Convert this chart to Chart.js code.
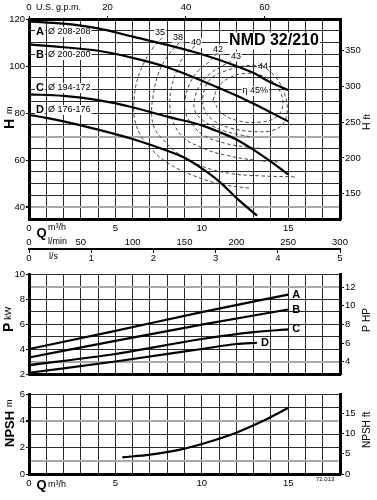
<!DOCTYPE html>
<html>
<head>
<meta charset="utf-8">
<script src="https://cdn.jsdelivr.net/npm/chart.js@4.4.1/dist/chart.umd.min.js"></script>
<style>
  html, body { margin: 0; padding: 0; background: #fff; }
  #wrap { position: relative; width: 377px; height: 500px; overflow: hidden; }
  canvas { position: absolute; left: 0; }
</style>
</head>
<body>
<div id="wrap">
  <canvas id="headChart" width="377" height="265" style="top:0"></canvas>
  <canvas id="powerChart" width="377" height="120" style="top:265px"></canvas>
  <canvas id="npshChart" width="377" height="115" style="top:385px"></canvas>
</div>
<script>
'use strict';

// flow Q in m3/h, head H in m
const HEAD_Q_AB = [0, 2, 4, 6, 8, 10, 12, 13, 14, 15];
const HEAD_A = [119, 118, 116, 112.5, 109, 105, 100, 97, 93, 89.8];
const HEAD_B = [109.2, 108, 106.5, 103.5, 99.5, 93.8, 87.5, 84, 80.3, 76.5];
const HEAD_Q_C = [0, 2, 4, 6, 8, 10, 11, 12, 13, 14, 15];
const HEAD_C = [88, 87.3, 85.5, 82.5, 78.5, 74.8, 72, 68.8, 64.4, 59.4, 54];
const HEAD_Q_D = [0, 1, 2, 4, 6, 8, 9, 10, 11, 12, 13.2];
const HEAD_D = [79.3, 78, 76.5, 73, 69, 64, 61, 56.5, 51, 44, 36.4];
const PUMP_NAMES = ['A', 'B', 'C', 'D'];
const IMPELLERS = ['Ø 208-208', 'Ø 200-200', 'Ø 194-172', 'Ø 176-176'];

// iso-efficiency lines (%)
const EFF_LABELS = ['35', '38', '40', '42', '43', '44', 'η 45%'];
const EFF_Q = [
  [7.7, 7.2, 6.7, 6.3, 6.1, 6.1, 6.5, 7.1, 8.1, 9.5, 11, 12.8],
  [8.7, 8.0, 7.5, 7.2, 7.1, 7.3, 7.8, 8.6, 10, 11.6, 13.5, 15.5],
  [9.6, 8.95, 8.55, 8.25, 8.15, 8.3, 8.9, 9.9, 11.4, 13.2, 14.5],
  [10.9, 10.4, 9.8, 9.35, 9.05, 9.05, 9.42, 10.1, 11.44, 12.6, 13.56],
  [11.7, 11.05, 10.47, 9.95, 9.6, 9.6, 10.0, 10.6, 11.3, 12.2, 12.95],
  [13.48, 14.24, 14.76, 14.95, 14.7, 14.06, 12.9, 11.7, 10.75, 10.15, 10.1, 10.5, 11.4, 12.4, 13.48],
  [10.65, 10.94, 11.52, 12.5, 13.6, 14.35, 14.7, 14.29, 13.25, 12.04, 11.17, 10.65]
];
const EFF_H = [
  [112, 108, 102, 95, 87, 78, 70, 64.5, 58.5, 53.5, 50, 48],
  [110, 104, 97, 88, 79, 73, 68.5, 63, 57.5, 54.4, 53.3, 52.9],
  [108.5, 104, 98, 91, 84, 77, 70, 65.6, 62.1, 59.9, 59.2],
  [105.5, 101.7, 98.1, 93.2, 86.8, 80.5, 75.5, 70.6, 67, 65.6, 64.9],
  [102, 99.5, 96.7, 92.5, 86.8, 81, 77.3, 74.6, 72.4, 70.8, 69.8],
  [100.3, 95.6, 88.8, 81.2, 75.4, 72.6, 72.2, 73.6, 76.5, 81.5, 88.5, 94.5, 98, 100, 100.3],
  [85.4, 90.9, 94.7, 96.9, 95.6, 91.3, 84.1, 78.2, 76.1, 76.9, 79.9, 85.4]
];

// power P in kW
const POWER_Q_AB = [0, 5, 10, 15];
const POWER_A = [4.0, 5.45, 6.95, 8.35];
const POWER_B = [3.32, 4.65, 5.95, 7.16];
const POWER_Q_C = [0, 5, 10, 13, 15];
const POWER_C = [2.71, 3.6, 4.8, 5.35, 5.57];
const POWER_Q_D = [0, 5, 10, 12, 13.2];
const POWER_D = [2.1, 3.0, 4.0, 4.4, 4.5];

// NPSH in m
const NPSH_Q = [5.4, 7, 9, 10, 12, 13.5, 15];
const NPSH_M = [1.25, 1.45, 1.9, 2.25, 3.1, 3.95, 4.95];

// axis ticks
const TICKS_GPM = [0, 20, 40, 60];
const TICKS_LMIN = [0, 50, 100, 150, 200, 250, 300];
const TICKS_LS = [0, 1, 2, 3, 4, 5];
const TICKS_HEAD_FT = [150, 200, 250, 300, 350];
const TICKS_HP = [4, 6, 8, 10, 12];
const TICKS_NPSH_FT = [0, 5, 10, 15];

const Q_MAX = 18;
const M_TO_FT = 3.28084;
const KW_TO_HP = 1.34102;
const M3H_TO_GPM = 4.40287;
const M3H_TO_LMIN = 1000 / 60;
const M3H_TO_LS = 1 / 3.6;

const FONT = "'Liberation Sans', Arial, Helvetica, sans-serif";
Chart.defaults.font.family = FONT;
Chart.defaults.font.size = 9.5;
Chart.defaults.color = '#000';

const pts = (xs, ys) => xs.map((x, i) => ({ x, y: ys[i] }));
const solid = (xs, ys) => ({
  data: pts(xs, ys), borderColor: '#000', borderWidth: 2.2, pointRadius: 0,
  cubicInterpolationMode: 'monotone'
});
const dashed = (xs, ys) => ({
  data: pts(xs, ys), borderColor: '#333', borderWidth: 0.9, borderDash: [3.5, 2.5],
  pointRadius: 0, tension: 0.4
});
const fixedTicks = vals => s => { s.ticks = vals.map(value => ({ value })); };
const fixW = w => s => { s.width = w; };
const fixH = h => s => { s.height = h; };
const BORDER = { display: true, color: '#000', width: 3 };
const gridStyle = grey => ({
  color: c => grey.includes(c.tick && c.tick.value) ? '#a9a9a9' : '#2a2a2a',
  lineWidth: c => grey.includes(c.tick && c.tick.value) ? 2 : 1
});

function text(ctx, s, x, y, font, align, bg) {
  ctx.font = font;
  ctx.textAlign = align || 'left';
  ctx.textBaseline = 'middle';
  if (bg) {
    const w = ctx.measureText(s).width;
    const h = parseFloat(font.match(/([\d.]+)px/)[1]);
    const x0 = align === 'center' ? x - w / 2 : align === 'right' ? x - w : x;
    ctx.fillStyle = '#fff';
    ctx.fillRect(x0 - 1, y - h / 2 - 0.5, w + 2, h + 1);
  }
  ctx.fillStyle = '#000';
  ctx.fillText(s, x, y);
}

// vertical text, reading bottom to top, starting at (x, y)
function vtext(ctx, parts, x, y) {
  ctx.save();
  ctx.translate(x, y);
  ctx.rotate(-Math.PI / 2);
  let pos = 0;
  parts.forEach(([s, font, gap]) => {
    ctx.font = font;
    ctx.textAlign = 'left';
    ctx.textBaseline = 'middle';
    ctx.fillStyle = '#000';
    ctx.fillText(s, pos, 0);
    pos += ctx.measureText(s).width + (gap || 0);
  });
  ctx.restore();
}

const headText = {
  id: 'headText',
  beforeDatasetsDraw(chart) {
    const { ctx, scales: { x, y } } = chart;
    ctx.save();
    text(ctx, 'U.S. g.p.m.', 36, 7.5, '9px ' + FONT);
    text(ctx, 'NMD 32/210', 274, 41, 'bold 16px ' + FONT, 'center', true);
    const rowY = [32, 55, 88, 110];
    PUMP_NAMES.forEach((n, i) => {
      text(ctx, n, 36, rowY[i], 'bold 11px ' + FONT, 'left', true);
      text(ctx, IMPELLERS[i], 48, rowY[i], '9px ' + FONT, 'left', true);
    });
    const anchors = [[7.58, 114.3], [8.62, 112.1], [9.66, 109.8], [10.94, 107.1],
                     [11.98, 104.1], [13.54, 99.6], [13.1, 89.4]];
    EFF_LABELS.forEach((l, i) => {
      text(ctx, l, x.getPixelForValue(anchors[i][0]), y.getPixelForValue(anchors[i][1]),
           '9px ' + FONT, 'center', true);
    });
    text(ctx, 'Q', 36.5, 233, 'bold 13px ' + FONT);
    text(ctx, 'm³/h', 48, 228, '9px ' + FONT);
    text(ctx, 'l/min', 48, 242, '9px ' + FONT);
    text(ctx, 'l/s', 49, 257, '9px ' + FONT);
    vtext(ctx, [['H', 'bold 14px ' + FONT, 5], ['m', '9px ' + FONT]], 10, 129);
    vtext(ctx, [['H', '10.5px ' + FONT, 3], ['ft', '9.5px ' + FONT]], 367, 130);
    ctx.restore();
  }
};

const powerText = {
  id: 'powerText',
  afterDatasetsDraw(chart) {
    const { ctx, scales: { x, y } } = chart;
    ctx.save();
    const ends = [[POWER_Q_AB, POWER_A], [POWER_Q_AB, POWER_B], [POWER_Q_C, POWER_C], [POWER_Q_D, POWER_D]];
    ends.forEach(([qs, ps], i) => {
      const n = qs.length - 1;
      text(ctx, PUMP_NAMES[i], x.getPixelForValue(qs[n]) + 4, y.getPixelForValue(ps[n]),
           'bold 11px ' + FONT);
    });
    vtext(ctx, [['P', 'bold 14px ' + FONT, 3], ['kW', '9px ' + FONT]], 9, 67);
    vtext(ctx, [['P', '10.5px ' + FONT, 3], ['HP', '10px ' + FONT]], 367, 67);
    ctx.restore();
  }
};

const npshText = {
  id: 'npshText',
  afterDatasetsDraw(chart) {
    const { ctx } = chart;
    ctx.save();
    text(ctx, 'Q', 36.5, 100, 'bold 13px ' + FONT);
    text(ctx, 'm³/h', 48, 100, '9px ' + FONT);
    text(ctx, '72.013', 316, 94, '6px ' + FONT);
    vtext(ctx, [['NPSH', 'bold 13px ' + FONT, 4], ['m', '9px ' + FONT]], 10, 62);
    vtext(ctx, [['NPSH', '10px ' + FONT, 3], ['ft', '10px ' + FONT]], 367, 63);
    ctx.restore();
  }
};

const base = {
  responsive: false,
  animation: false,
  devicePixelRatio: 1,
  plugins: { legend: { display: false }, tooltip: { enabled: false } }
};

const qAxis = (height, showLabels, pad) => ({
  type: 'linear', position: 'bottom', min: 0, max: Q_MAX,
  afterFit: fixH(height),
  border: BORDER,
  grid: { color: '#2a2a2a', lineWidth: 1, drawTicks: false },
  ticks: {
    display: showLabels, stepSize: 1, autoSkip: false, maxRotation: 0, padding: pad,
    callback: v => v % 5 === 0 ? v : ''
  }
});

const leftAxis = (min, max, step, every, grey) => ({
  type: 'linear', position: 'left', min, max,
  afterFit: fixW(29),
  border: BORDER,
  grid: Object.assign(gridStyle(grey), {
    tickLength: 3,
    tickColor: c => c.tick && c.tick.value % every === 0 ? '#000' : 'rgba(0,0,0,0)'
  }),
  ticks: { stepSize: step, padding: 1, autoSkip: false, callback: v => v % every === 0 ? v : '' }
});

const rightAxis = (min, max, ticks) => ({
  type: 'linear', position: 'right', min, max,
  afterFit: fixW(37),
  afterBuildTicks: fixedTicks(ticks),
  border: BORDER,
  grid: { drawOnChartArea: false, tickLength: 4, color: '#000' },
  ticks: { padding: 1, autoSkip: false }
});

new Chart(document.getElementById('headChart'), {
  type: 'line',
  data: {
    datasets: [
      solid(HEAD_Q_AB, HEAD_A), solid(HEAD_Q_AB, HEAD_B),
      solid(HEAD_Q_C, HEAD_C), solid(HEAD_Q_D, HEAD_D)
    ].concat(EFF_Q.map((qs, i) => dashed(qs, EFF_H[i])))
  },
  options: Object.assign({}, base, {
    scales: {
      x: qAxis(16, true, 4),
      xlmin: {
        type: 'linear', position: 'bottom', min: 0, max: Q_MAX * M3H_TO_LMIN,
        afterFit: fixH(14), afterBuildTicks: fixedTicks(TICKS_LMIN),
        border: { display: false }, grid: { display: false, drawTicks: false },
        ticks: { padding: 2, maxRotation: 0, autoSkip: false }
      },
      xls: {
        type: 'linear', position: 'bottom', min: 0, max: Q_MAX * M3H_TO_LS,
        afterFit: fixH(16), afterBuildTicks: fixedTicks(TICKS_LS),
        border: { display: true, color: '#000', width: 2 },
        grid: { drawOnChartArea: false, tickLength: 4, color: '#000' },
        ticks: { padding: 0, maxRotation: 0, autoSkip: false }
      },
      xgpm: {
        type: 'linear', position: 'top', min: 0, max: Q_MAX * M3H_TO_GPM,
        afterFit: fixH(19), afterBuildTicks: fixedTicks(TICKS_GPM),
        border: BORDER,
        grid: { drawOnChartArea: false, tickLength: 3, color: '#000' },
        ticks: { padding: 3, maxRotation: 0, autoSkip: false }
      },
      y: leftAxis(35, 120, 5, 20, [40, 70]),
      yft: rightAxis(35 * M_TO_FT, 120 * M_TO_FT, TICKS_HEAD_FT)
    }
  }),
  plugins: [headText]
});

new Chart(document.getElementById('powerChart'), {
  type: 'line',
  data: {
    datasets: [
      solid(POWER_Q_AB, POWER_A), solid(POWER_Q_AB, POWER_B),
      solid(POWER_Q_C, POWER_C), solid(POWER_Q_D, POWER_D)
    ]
  },
  options: Object.assign({}, base, {
    layout: { padding: { top: 9 } },
    scales: {
      x: qAxis(11, false, 0),
      y: leftAxis(2, 10, 1, 2, [3, 9]),
      yhp: rightAxis(2 * KW_TO_HP, 10 * KW_TO_HP, TICKS_HP)
    }
  }),
  plugins: [powerText]
});

new Chart(document.getElementById('npshChart'), {
  type: 'line',
  data: { datasets: [solid(NPSH_Q, NPSH_M)] },
  options: Object.assign({}, base, {
    layout: { padding: { top: 9 } },
    scales: {
      x: qAxis(26, true, 4),
      y: leftAxis(0, 6, 1, 2, [1, 4]),
      yft: rightAxis(0, 6 * M_TO_FT, TICKS_NPSH_FT)
    }
  }),
  plugins: [npshText]
});
</script>
</body>
</html>
